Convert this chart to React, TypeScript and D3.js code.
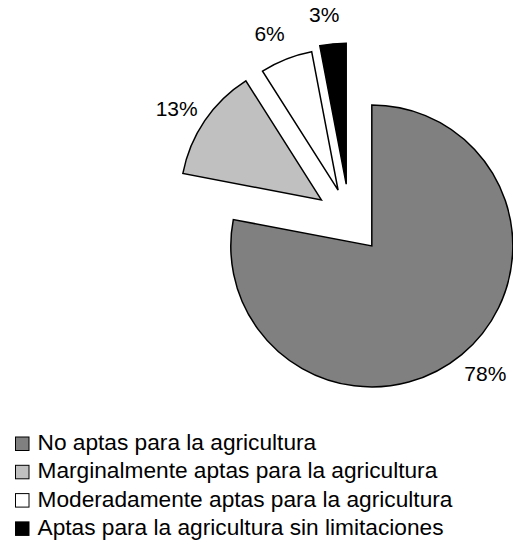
import React from "react";
import * as d3 from "d3";

const categories = [
  "No aptas para la agricultura",
  "Marginalmente aptas para la agricultura",
  "Moderadamente aptas para la agricultura",
  "Aptas para la agricultura sin limitaciones",
];
const values = [78, 13, 6, 3];
const labels = ["78%", "13%", "6%", "3%"];
const colors = ["#808080", "#c0c0c0", "#ffffff", "#000000"];
const explode = [35, 34, 31, 35];

const W = 513;
const H = 545;
const cx = 349.5;
const cy = 219;
const R = 141;
const labelR = 171;
const labelShift = -0.035;
const font = "'Liberation Sans', Arial, sans-serif";
const labelSize = 21;
const legendSize = 22.7;

export default function App() {
  const pie = d3.pie<number>().sort(null).value((d) => d)(values);
  const arc = d3.arc<d3.PieArcDatum<number>>().innerRadius(0).outerRadius(R);

  const legendX = 15;
  const legendBase0 = 450;
  const legendStep = 28.3;

  return (
    <svg
      width={W}
      height={H}
      style={{ position: "absolute", left: 0, top: 0, background: "#fff" }}
    >
      {pie.map((p, i) => {
        const mid = (p.startAngle + p.endAngle) / 2;
        const ox = cx + explode[i] * Math.sin(mid);
        const oy = cy - explode[i] * Math.cos(mid);
        const la = mid + labelShift;
        const lx = ox + labelR * Math.sin(la);
        const ly = oy - labelR * Math.cos(la);
        return (
          <g key={i}>
            <path
              d={arc(p) || ""}
              transform={`translate(${ox},${oy})`}
              fill={colors[i]}
              stroke="#000"
              strokeWidth={1.5}
              strokeLinejoin="miter"
            />
            <text
              x={lx}
              y={ly}
              dy="0.36em"
              textAnchor="middle"
              fontFamily={font}
              fontSize={labelSize}
              fill="#000"
            >
              {labels[i]}
            </text>
          </g>
        );
      })}
      {categories.map((c, i) => {
        const yb = legendBase0 + i * legendStep;
        return (
          <g key={c}>
            <rect
              x={legendX + 0.5}
              y={yb - 13}
              width={13.5}
              height={13.5}
              fill={colors[i]}
              stroke="#000"
              strokeWidth={1}
            />
            <text
              x={37.5}
              y={yb}
              fontFamily={font}
              fontSize={legendSize}
              fill="#000"
            >
              {c}
            </text>
          </g>
        );
      })}
    </svg>
  );
}
